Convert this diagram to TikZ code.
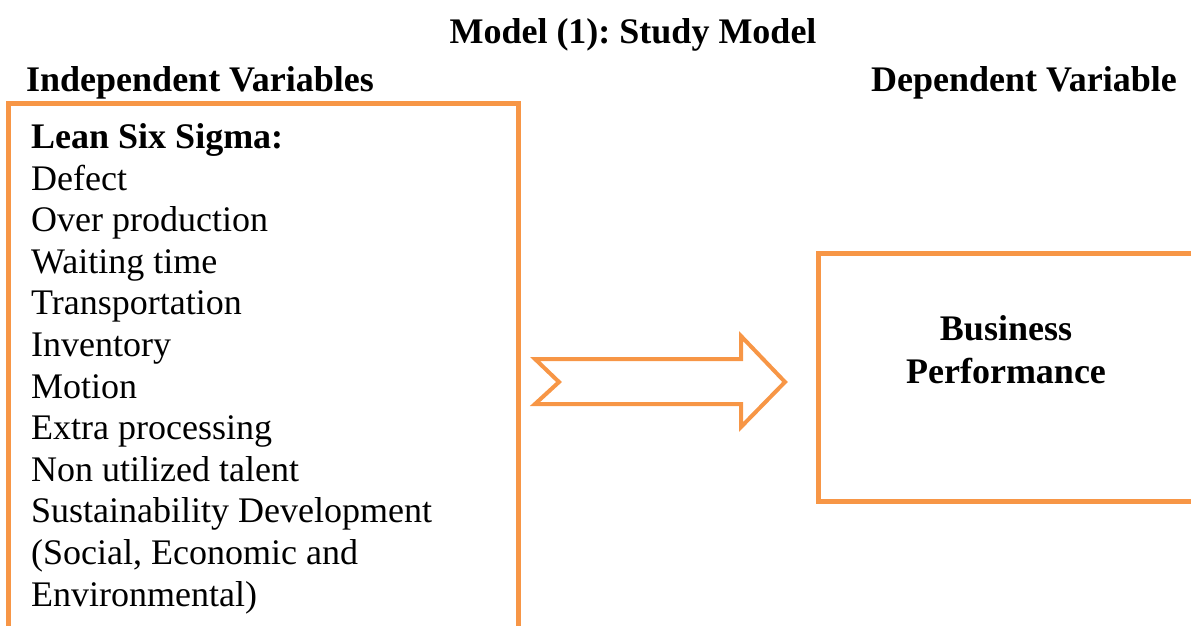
\documentclass[tikz,border=0pt]{standalone}
\usepackage{fontspec}
\setmainfont{Liberation Serif}
\frenchspacing
\definecolor{accent}{HTML}{F79646}
\begin{document}
\begin{tikzpicture}[x=1pt,y=-1pt,
  frame/.style={draw=accent, line width=5pt, line join=miter},
  blockarrow/.style={draw=accent, line width=4pt, line join=miter, miter limit=10},
  txt/.style={inner sep=0pt, font=\fontsize{36}{41.6}\selectfont},
  hdr/.style={inner sep=0pt, font=\fontsize{36}{41.6}\selectfont\bfseries}]
\useasboundingbox (0,0) rectangle (1191,625);

% headings
\node[hdr, anchor=base] (title) at (633,43) {Model (1): Study Model};
\node[hdr, anchor=base west] (indep) at (26,91) {Independent Variables};
\node[hdr, anchor=base east] (dep) at (1177,91) {Dependent Variable};

% independent variables box (open at the bottom)
\draw[frame] (8.5,630) -- (8.5,103.5) -- (518.5,103.5) -- (518.5,630);
\node[hdr, anchor=base west] (lss) at (31,148.5) {Lean Six Sigma:};
\foreach \t [count=\i from 0] in {Defect, Over production, Waiting time,
    Transportation, Inventory, Motion, Extra processing, Non utilized talent,
    Sustainability Development, {(Social, Economic and}, Environmental)}
  \node[txt, anchor=base west] (item\i) at (31,190+41.6*\i) {\t};

% dependent variable box (open at the right)
\draw[frame] (1196,253.5) -- (818.5,253.5) -- (818.5,501) -- (1196,501);
\node[hdr, anchor=base] (bp1) at (1006,340.5) {Business};
\node[hdr, anchor=base] (bp2) at (1006,383.5) {Performance};

% notched block arrow between the boxes
\draw[blockarrow] (535,359) -- (559,382) -- (535,404) -- (741,404)
  -- (741,427) -- (785,382) -- (741,336) -- (741,359) -- cycle;
\end{tikzpicture}
\end{document}
